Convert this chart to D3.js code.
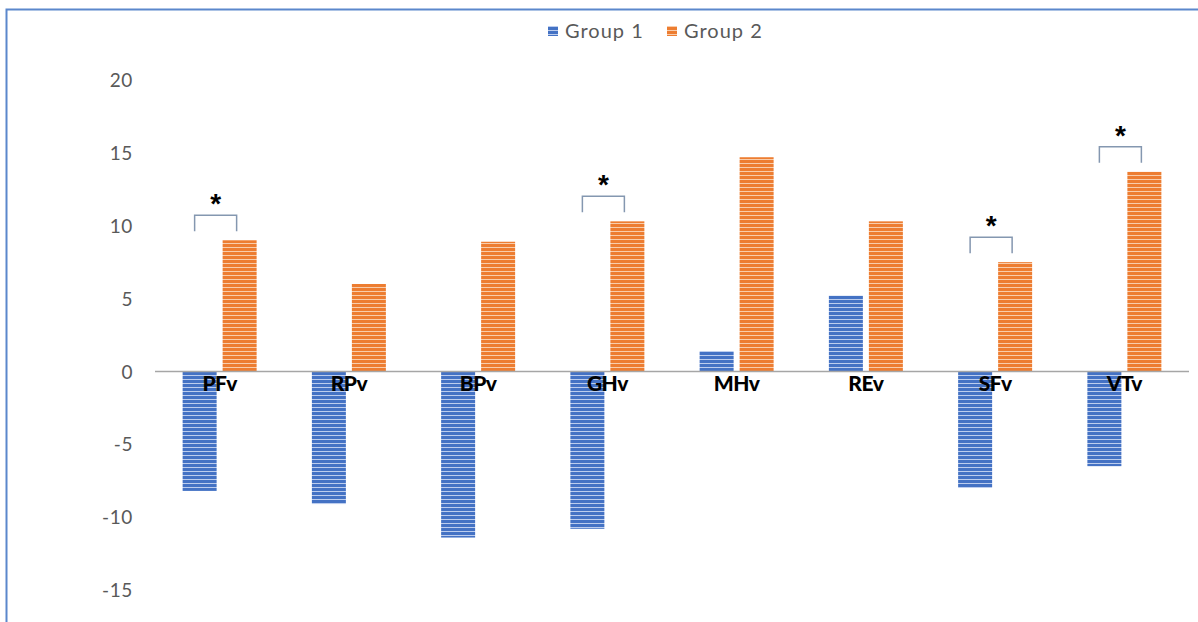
<!DOCTYPE html>
<html>
<head>
<meta charset="utf-8">
<script src="https://cdn.jsdelivr.net/npm/d3@7"></script>
<style>
  html, body { margin: 0; padding: 0; background: #fff; }
  svg { display: block; }
</style>
</head>
<body>
<svg id="chart" width="1198" height="622"></svg>
<script>
// Variables measured for each group
const categories = ["PFv", "RPv", "BPv", "GHv", "MHv", "REv", "SFv", "VTv"];
const seriesNames = ["Group 1", "Group 2"];
const group1 = [-8.2, -9.1, -11.4, -10.8, 1.4, 5.2, -8.0, -6.5];
const group2 = [9.0, 6.0, 8.9, 10.3, 14.7, 10.3, 7.5, 13.7];
// Categories where the group difference is significant
const significant = ["PFv", "GHv", "SFv", "VTv"];
const yTicks = [20, 15, 10, 5, 0, -5, -10, -15];

const colors = ["#4472C4", "#ED7D31"];
const stripeColors = ["#bccdee", "#f9cdab"];

const svg = d3.select("#chart");
const W = 1198, H = 622;
const plot = { left: 155, right: 1189, top: 80, bottom: 590 };

// Striped fill patterns for the bars
const defs = svg.append("defs");
colors.forEach((c, i) => {
  const p = defs.append("pattern")
    .attr("id", "stripe" + i)
    .attr("patternUnits", "userSpaceOnUse")
    .attr("width", 8).attr("height", 4);
  p.append("rect").attr("width", 8).attr("height", 4).attr("fill", c);
  p.append("rect").attr("y", 3).attr("width", 8).attr("height", 1).attr("fill", stripeColors[i]);
});

// Frame
svg.append("path")
  .attr("d", `M6.5,${H} V9.5 H${W}`)
  .attr("fill", "none")
  .attr("stroke", "#5b87cc")
  .attr("stroke-width", 2);

const x0 = d3.scaleBand()
  .domain(categories)
  .range([plot.left, plot.right])
  .paddingInner(0.4275)
  .paddingOuter(0.4275 / 2);

const x1 = d3.scaleBand()
  .domain(seriesNames)
  .range([0, x0.bandwidth()])
  .paddingInner(0.15);

const y = d3.scaleLinear()
  .domain([-15, 20])
  .range([plot.bottom, plot.top]);

// Y axis labels (no axis line, no gridlines)
const yAxis = d3.axisLeft(y).tickValues(yTicks).tickSize(0).tickPadding(0)
  .tickFormat(d => String(d));
svg.append("g")
  .attr("transform", `translate(${plot.left - 22},0)`)
  .call(yAxis)
  .call(g => g.select(".domain").remove())
  .call(g => g.selectAll("text")
    .attr("fill", "#595959")
    .attr("font-family", "Lato, 'Open Sans', sans-serif")
    .attr("font-size", 19)
    .attr("dy", "0.35em")
    .style("letter-spacing", "0.6px"));

// Bars
const rows = categories.map((c, i) => ({ cat: c, values: [group1[i], group2[i]] }));
const groups = svg.append("g").selectAll("g")
  .data(rows)
  .join("g")
  .attr("transform", d => `translate(${x0(d.cat)},0)`);

groups.selectAll("rect")
  .data(d => d.values.map((v, i) => ({ key: seriesNames[i], v, i })))
  .join("rect")
  .attr("x", d => x1(d.key))
  .attr("width", x1.bandwidth())
  .attr("y", d => y(Math.max(0, d.v)))
  .attr("height", d => Math.abs(y(d.v) - y(0)))
  .attr("fill", d => `url(#stripe${d.i})`);

// Zero baseline
svg.append("line")
  .attr("x1", plot.left).attr("x2", plot.right)
  .attr("y1", y(0)).attr("y2", y(0))
  .attr("stroke", "#a6a6a6")
  .attr("stroke-width", 1.5);

// Category labels sitting just under the baseline
svg.append("g").selectAll("text")
  .data(categories)
  .join("text")
  .attr("x", d => x0(d) + x0.bandwidth() / 2)
  .attr("y", y(0) + 20)
  .attr("text-anchor", "middle")
  .attr("font-family", "Lato, 'Open Sans', sans-serif")
  .attr("font-weight", "900")
  .attr("font-size", 21)
  .attr("fill", "#000")
  .style("letter-spacing", "-0.5px")
  .text(d => d);

// Significance brackets with asterisks
const sig = svg.append("g").selectAll("g")
  .data(significant)
  .join("g");

const bracketTop = d => {
  const i = categories.indexOf(d);
  return y(Math.max(group1[i], group2[i], 0)) - 25;
};

sig.append("path")
  .attr("d", d => {
    const cx = x0(d) + x0.bandwidth() / 2;
    const top = bracketTop(d);
    return `M${cx - 25},${top + 16} V${top} H${cx + 17} V${top + 16}`;
  })
  .attr("fill", "none")
  .attr("stroke", "#8497b0")
  .attr("stroke-width", 1.5);

sig.append("text")
  .attr("x", d => x0(d) + x0.bandwidth() / 2 - 4)
  .attr("y", d => bracketTop(d) - 2)
  .attr("text-anchor", "middle")
  .attr("font-family", "'Liberation Sans', Arial, sans-serif")
  .attr("font-weight", "bold")
  .attr("font-size", 28)
  .attr("fill", "#000")
  .text("*");

// Legend
const legend = svg.append("g").attr("transform", "translate(548,31)");
const legendX = [0, 119];
seriesNames.forEach((name, i) => {
  const g = legend.append("g").attr("transform", `translate(${legendX[i]},0)`);
  g.append("rect")
    .attr("x", 0).attr("y", -5)
    .attr("width", 10).attr("height", 10)
    .attr("fill", `url(#stripe${i})`);
  g.append("text")
    .attr("x", 17).attr("y", 0)
    .attr("dy", "0.35em")
    .attr("font-family", "Lato, 'Open Sans', sans-serif")
    .attr("font-size", 20)
    .attr("fill", "#595959")
    .style("letter-spacing", "1px")
    .text(name);
});
</script>
</body>
</html>
